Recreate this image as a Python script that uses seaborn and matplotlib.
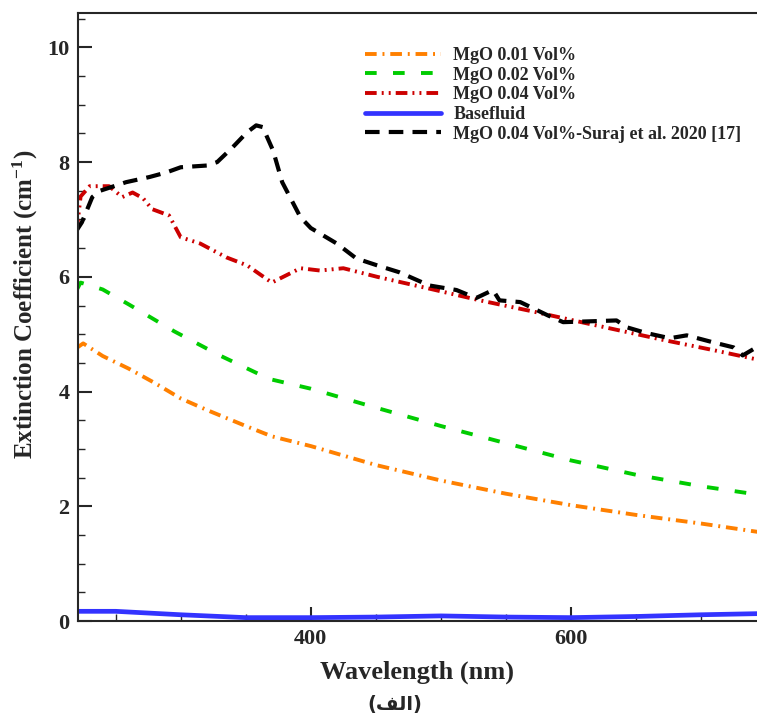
import numpy as np
import pandas as pd
import seaborn as sns
import matplotlib.pyplot as plt
from matplotlib.ticker import MultipleLocator

# data (wavelength in nm, extinction coefficient in 1/cm)
wl_01 = [220, 225, 240, 260, 280, 300, 320, 350, 370, 400, 450, 500, 550, 600, 650, 700, 745]
k_01 = [4.76, 4.84, 4.62, 4.40, 4.15, 3.88, 3.68, 3.40, 3.22, 3.05, 2.72, 2.45, 2.22, 2.02, 1.85, 1.70, 1.55]

wl_02 = [220, 223, 240, 260, 295, 330, 368, 400, 450, 500, 550, 600, 650, 700, 745]
k_02 = [5.77, 5.90, 5.78, 5.52, 5.05, 4.63, 4.22, 4.05, 3.72, 3.40, 3.10, 2.80, 2.55, 2.35, 2.20]

wl_04 = [220, 223, 230, 245, 255, 263, 271, 278, 291, 300, 315, 335, 351, 370, 392, 407,
         425, 451, 490, 530, 570, 612, 671, 710, 745]
k_04 = [6.80, 7.40, 7.58, 7.58, 7.39, 7.47, 7.37, 7.18, 7.07, 6.69, 6.58, 6.34, 6.20, 5.90, 6.15, 6.11,
        6.15, 6.00, 5.80, 5.59, 5.40, 5.19, 4.90, 4.72, 4.55]

wl_base = [220, 250, 300, 350, 400, 450, 500, 550, 600, 650, 700, 745]
k_base = [0.17, 0.17, 0.11, 0.06, 0.06, 0.07, 0.09, 0.07, 0.06, 0.08, 0.11, 0.13]

wl_ref = [220, 224, 232, 238, 258, 276, 289, 300, 320, 328, 340, 351, 358, 363, 371, 378, 392, 400,
          420, 435, 451, 468, 476, 491, 512, 527, 540, 545, 561, 582, 594, 622, 635, 643, 658, 676,
          689, 709, 725, 732, 741, 745]
k_ref = [6.81, 6.95, 7.39, 7.50, 7.65, 7.74, 7.82, 7.91, 7.94, 8.00, 8.26, 8.52, 8.64, 8.61, 8.20, 7.65,
         7.04, 6.85, 6.58, 6.32, 6.20, 6.08, 6.00, 5.85, 5.77, 5.63, 5.77, 5.59, 5.56, 5.33, 5.21, 5.23,
         5.24, 5.12, 5.02, 4.93, 4.98, 4.86, 4.77, 4.63, 4.75, 4.75]

labels = ["MgO 0.01 Vol%", "MgO 0.02 Vol%", "MgO 0.04 Vol%", "Basefluid",
          "MgO 0.04 Vol%-Suraj et al. 2020 [17]"]
caption = "(الف)"

sns.set_style("ticks")
plt.rcParams['font.family'] = ['Liberation Serif', 'DejaVu Sans']
plt.rcParams['font.weight'] = 'bold'
plt.rcParams['mathtext.default'] = 'regular'

fig = plt.figure(figsize=(7.57, 7.18), dpi=100)
ax = fig.add_axes([0.103, 0.135, 0.897, 0.847])

series = [
    (wl_01, k_01, "#ff8000", 2.8, (0, (3, 1.5, 0.5, 1.5))),
    (wl_02, k_02, "#00cc00", 2.8, (0, (3, 4.2))),
    (wl_04, k_04, "#cc0000", 2.8, (0, (3, 1.3, 0.5, 1.3, 0.5, 1.3))),
    (wl_base, k_base, "#3333ff", 3.4, "-"),
    (wl_ref, k_ref, "black", 3.0, (0, (3.5, 2.2))),
]
for (x, y, c, lw, ls), lab in zip(series, labels):
    df = pd.DataFrame({"wl": x, "k": y})
    sns.lineplot(data=df, x="wl", y="k", ax=ax, color=c, lw=lw, linestyle=ls,
                 label=lab, sort=False, estimator=None)

ax.set_xlim(221, 743)
ax.set_ylim(0, 10.6)
ax.xaxis.set_major_locator(MultipleLocator(200))
ax.xaxis.set_minor_locator(MultipleLocator(50))
ax.yaxis.set_major_locator(MultipleLocator(2))
ax.yaxis.set_minor_locator(MultipleLocator(0.5))
ax.tick_params(which="major", direction="in", length=10, width=1.5, labelsize=16, pad=6)
ax.tick_params(which="minor", direction="in", length=5, width=1.0)
for lbl in ax.get_xticklabels() + ax.get_yticklabels():
    lbl.set_fontweight("bold")
for s in ["left", "bottom", "top"]:
    ax.spines[s].set_linewidth(1.5)
ax.spines["right"].set_visible(False)

ax.set_xlabel("Wavelength (nm)", fontsize=19, fontweight="bold", labelpad=8)
ax.set_ylabel("Extinction Coefficient (cm$^{-1}$)", fontsize=18, fontweight="bold")
ax.yaxis.set_label_coords(-0.056, 0.52)

leg = ax.legend(loc="upper left", bbox_to_anchor=(0.4227, 0.944), frameon=False,
                prop={"size": 13, "weight": "bold"}, handlelength=4.2, handletextpad=0.7,
                labelspacing=0.15, borderaxespad=0, borderpad=0)

# matplotlib has no Arabic shaping, so give the letters their joined forms in visual order
forms = {"ا": "\ufe8d", "ل": "\ufedf", "ف": "\ufed2"}
word = caption.strip("()")
visual = "(" + "".join(forms[ch] for ch in reversed(word)) + ")"
fig.text(0.521, 0.019, visual, ha="center", va="center", fontsize=14, fontweight="bold",
         family=["DejaVu Sans"])

fig.savefig("out.png", dpi=100)
